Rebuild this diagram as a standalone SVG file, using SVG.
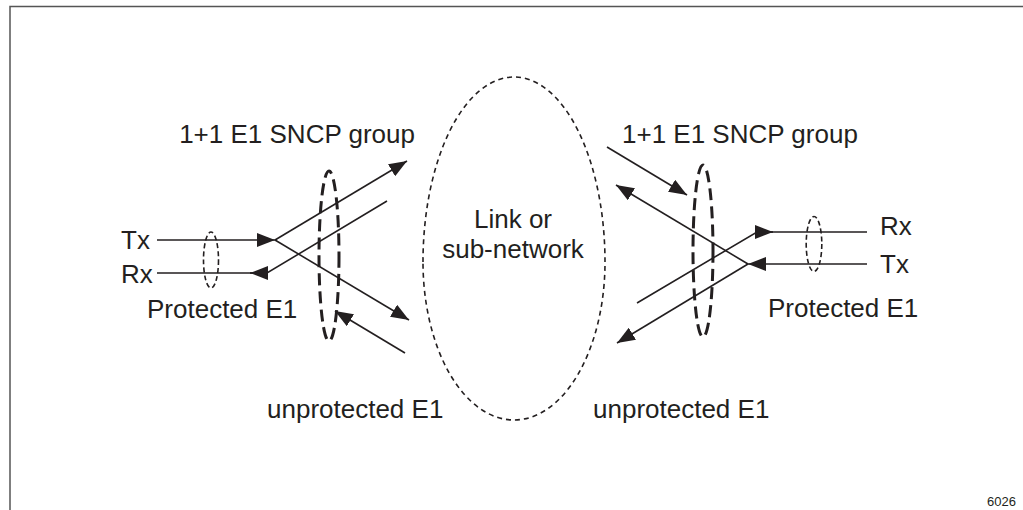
<svg xmlns="http://www.w3.org/2000/svg" width="1023" height="510" viewBox="0 0 1023 510">
<defs>
<style>
.t{font-family:"Liberation Sans",Arial,sans-serif;font-size:26px;fill:#231f20}
.ln{stroke:#231f20;stroke-width:1.6;fill:none}
.sd{stroke:#231f20;stroke-width:1.6;fill:none;stroke-dasharray:5 3}
.bd{stroke:#231f20;stroke-width:3;fill:none;stroke-dasharray:12 6}
.cd{stroke:#231f20;stroke-width:1.6;fill:none;stroke-dasharray:5 4}
</style>
<marker id="ah" viewBox="0 0 18 14" refX="18" refY="7" markerWidth="18" markerHeight="14" markerUnits="userSpaceOnUse" orient="auto">
<path d="M0,0 L18,7 L0,14 z" fill="#231f20"/>
</marker>
</defs>
<rect width="1023" height="510" fill="#fff"/>
<path d="M10,510 L10,6.5 L1023,6.5" stroke="#555" stroke-width="1.5" fill="none"/>
<g id="cloud">
<path class="cd" d="M423,262 A91,185 0 0 1 605,262 A91,158 0 0 1 423,262 Z"/>
<text class="t" x="513" y="228" text-anchor="middle">Link or</text>
<text class="t" x="513" y="258" text-anchor="middle">sub-network</text>
</g>
<g id="left-group">
<ellipse cx="329" cy="256" rx="10" ry="85" class="bd"/>
<text class="t" x="415" y="143" text-anchor="end">1+1 E1 SNCP group</text>
<text class="t" x="267" y="418">unprotected E1</text>
</g>
<g id="left-e1">
<ellipse cx="211" cy="260" rx="7.5" ry="28" class="sd"/>
<text class="t" x="121" y="249">Tx</text>
<text class="t" x="121" y="283">Rx</text>
<text class="t" x="147" y="318">Protected E1</text>
</g>
<g id="right-group">
<ellipse cx="703" cy="251" rx="10" ry="86" class="bd"/>
<text class="t" x="622" y="143">1+1 E1 SNCP group</text>
<text class="t" x="593" y="418">unprotected E1</text>
</g>
<g id="right-e1">
<ellipse cx="814" cy="244" rx="7.8" ry="27.5" class="sd"/>
<text class="t" x="880" y="235">Rx</text>
<text class="t" x="880" y="273">Tx</text>
<text class="t" x="768" y="317">Protected E1</text>
</g>
<g id="connectors">
<path class="ln" d="M157,240 L275,240" marker-end="url(#ah)"/>
<path class="ln" d="M275,240 L407,161" marker-end="url(#ah)"/>
<path class="ln" d="M275,240 L409,320" marker-end="url(#ah)"/>
<path class="ln" d="M387,201 L267,273 L157,273"/>
<path class="ln" d="M267,273 L250,273" marker-end="url(#ah)"/>
<path class="ln" d="M405,353 L335,311" marker-end="url(#ah)"/>
<path class="ln" d="M607,147 L687,195" marker-end="url(#ah)"/>
<path class="ln" d="M748,264 L616,185" marker-end="url(#ah)"/>
<path class="ln" d="M748,264 L617,343" marker-end="url(#ah)"/>
<path class="ln" d="M637,303 L757,232 L867,232"/>
<path class="ln" d="M757,232 L773,232" marker-end="url(#ah)"/>
<path class="ln" d="M867,264 L748,264" marker-end="url(#ah)"/>
</g>
<text x="1016" y="506" text-anchor="end" style="font-family:'Liberation Sans',Arial,sans-serif;font-size:13px;fill:#231f20">6026</text>
</svg>
